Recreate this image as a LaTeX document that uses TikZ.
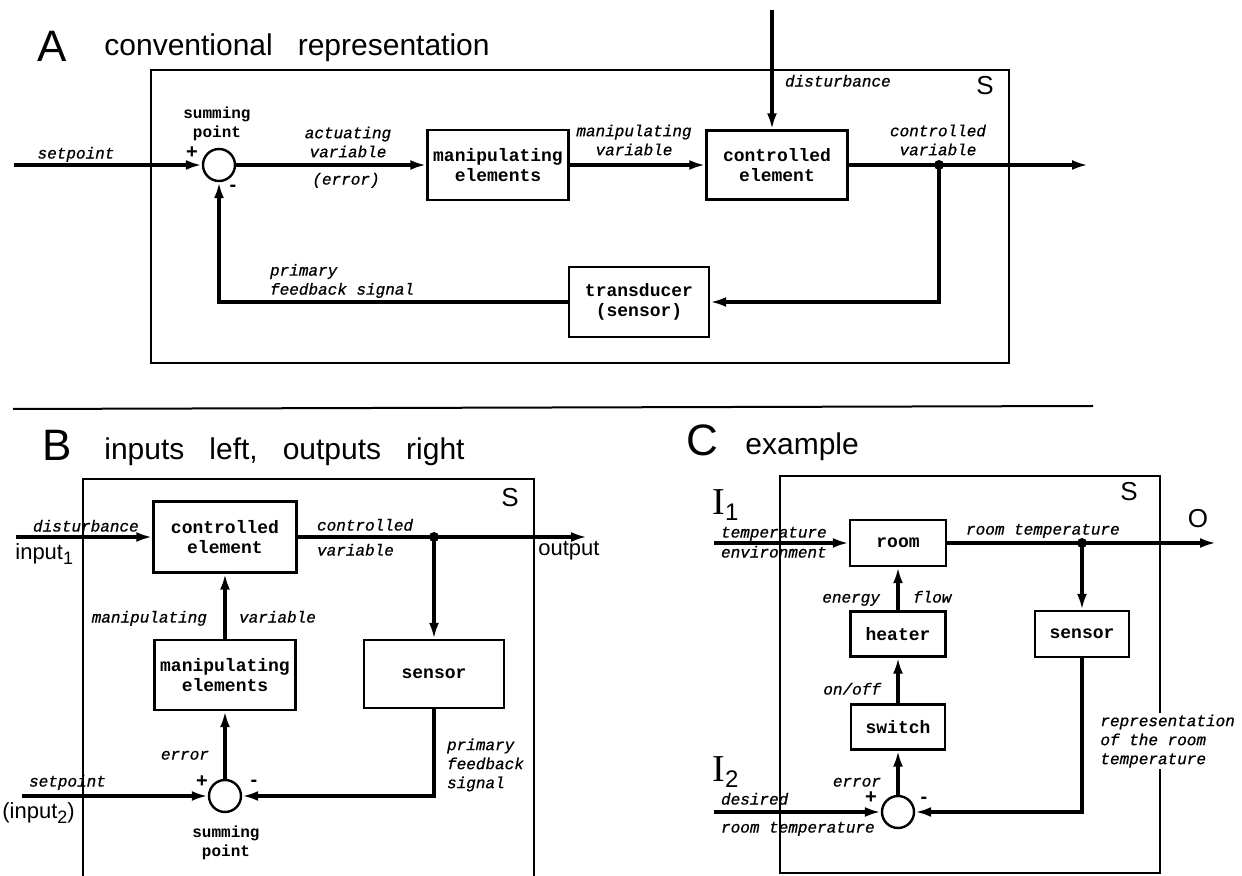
\documentclass[tikz,border=0pt]{standalone}
\usepackage{fontspec}
\usepackage{tikz}
\usetikzlibrary{arrows.meta}
\newfontfamily\monofont{Liberation Mono}
\newfontfamily\monolbl[FakeBold=0.8]{Liberation Mono}
\newfontfamily\sansfont{Liberation Sans}
\newfontfamily\titlefont[WordSpace=3]{Liberation Sans}
\newfontfamily\serifont{Liberation Serif}
\newcommand{\boxfont}{\monofont\bfseries\fontsize{9}{10}\selectfont}
\newcommand{\lblfont}{\monolbl\itshape\fontsize{8}{9.5}\selectfont}
\newcommand{\notefont}{\monofont\bfseries\fontsize{8}{9.5}\selectfont}
\begin{document}
\begin{tikzpicture}[x=0.5pt,y=-0.5pt,
    block/.style={
% The shape:
      rectangle,
% The border:
      draw, line width=1.2pt,
% The text:
      font=\boxfont, align=center, inner sep=1pt
    },
    sumpt/.style={
% The shape:
      circle, minimum size=16pt, inner sep=0pt,
% The border:
      draw, line width=1.2pt
    },
    dot/.style={circle, fill, inner sep=0pt, minimum size=5pt},
    sig/.style={line width=1.6pt, -{Latex[length=8pt,width=5pt]}},
    frame/.style={line width=1pt},
    lbl/.style={font=\lblfont},
    onelbl/.style={lbl, text height=1.5ex, text depth=0.45ex},
    note/.style={font=\notefont, align=center},
    sign/.style={font=\sansfont\bfseries\fontsize{10}{10}\selectfont, inner sep=0pt},
    bigletter/.style={font=\sansfont\fontsize{22}{22}\selectfont, inner sep=0pt},
    title/.style={font=\titlefont\fontsize{15}{15}\selectfont, anchor=west, inner sep=0pt},
    sysname/.style={font=\sansfont\fontsize{13}{13}\selectfont, inner sep=0pt},
    port/.style={font=\sansfont\fontsize{11}{11}\selectfont, anchor=west, inner sep=0pt},
    inport/.style={font=\serifont\fontsize{19}{19}\selectfont, anchor=west, inner sep=0pt}
  ]
  \useasboundingbox (0,0) rectangle (1242,876);

% ---------- A: conventional representation ----------
  \node[bigletter] (letA) at (52,46) {A};
  \node[title] (titA) at (104,48) {conventional representation};
  \draw[frame] (151,70) rectangle (1009,363);
  \node[sysname] (sysA) at (985,86) {S};

  \node[sumpt] (sumA) at (219,165) {};
  \node[block, minimum width=70.5pt, minimum height=35pt] (manipA) at (498,165) {manipulating\\elements};
  \node[block, minimum width=70.5pt, minimum height=34.5pt] (ctrlA) at (777,165) {controlled\\element};
  \node[block, minimum width=70pt, minimum height=35pt] (transA) at (639,302) {transducer\\(sensor)};
  \node[dot] (dotA) at (939,165) {};
  \coordinate (setA) at (14,165);
  \coordinate (distA) at (772,10);
  \coordinate (outA) at (1088,165);

  \draw[sig] (setA) -- (sumA);
  \draw[sig] (sumA) -- (manipA);
  \draw[sig] (manipA) -- (ctrlA);
  \draw[sig] (distA) -- (distA |- ctrlA.north);
  \draw[sig] (ctrlA) -- (outA);
  \draw[sig] (dotA.center) |- (transA);
  \draw[sig] (transA) -| (sumA);

  \node[onelbl] (spA) at (76,154) {setpoint};
  \node[sign] (plusA) at (192,153) {+};
  \node[sign] (minusA) at (233,188) {-};
  \node[note] (spointA) at (217,124) {summing\\point};
  \node[lbl, align=center] (actA) at (348,142) {actuating\\variable};
  \node[onelbl] (errA) at (346,180) {(error)};
  \node[lbl, align=center] (mvA) at (634,140) {manipulating\\variable};
  \node[onelbl, anchor=west] (disA) at (778,82) {disturbance};
  \node[lbl, align=center] (cvA) at (938,140) {controlled\\variable};
  \node[lbl, align=left, anchor=west] (fbA) at (263,281) {primary\\feedback signal};

% separator
  \draw[frame] (13,409) -- (1093,406);

% ---------- B: inputs left, outputs right ----------
  \node[bigletter] (letB) at (57,445) {B};
  \node[title] (titB) at (104,452) {inputs left, outputs right};
  \draw[frame] (83,876) -- (83,479) -- (534,479) -- (534,876);
  \node[sysname] (sysB) at (510,498) {S};

  \node[block, minimum width=71.5pt, minimum height=35.5pt] (ctrlB) at (225,537) {controlled\\element};
  \node[block, minimum width=70.5pt, minimum height=35pt] (manipB) at (225,675) {manipulating\\elements};
  \node[block, minimum width=70pt, minimum height=34pt] (sensB) at (434,674) {sensor};
  \node[sumpt] (sumB) at (225,796) {};
  \node[dot] (dotB) at (434,537) {};
  \coordinate (distB) at (16,537);
  \coordinate (outB) at (587,537);
  \coordinate (setB) at (22,796);

  \draw[sig] (distB) -- (ctrlB);
  \draw[sig] (ctrlB) -- (outB);
  \draw[sig] (dotB.center) -- (sensB);
  \draw[sig] (manipB) -- (ctrlB);
  \draw[sig] (sumB) -- (manipB);
  \draw[sig] (setB) -- (sumB);
  \draw[sig] (sensB) |- (sumB);

  \node[onelbl, anchor=west] (disB) at (26,527) {disturbance};
  \node[port] (in1B) at (15,554) {input\raisebox{-0.4ex}{\fontsize{9}{9}\selectfont 1}};
  \node[onelbl, anchor=west] (cvB) at (310,526) {controlled};
  \node[onelbl, anchor=west] (cvbB) at (310,551) {variable};
  \node[port] (outlB) at (538,551) {output};
  \node[onelbl, anchor=east] (mvB) at (214,618) {manipulating};
  \node[onelbl, anchor=west] (mvbB) at (232,618) {variable};
  \node[onelbl, anchor=east] (errB) at (216,755) {error};
  \node[sign] (plusB) at (202,782) {+};
  \node[sign] (minusB) at (254,783) {-};
  \node[onelbl, anchor=west] (spB) at (22,782) {setpoint};
  \node[port] (in2B) at (2,813) {(input\raisebox{-0.4ex}{\fontsize{9}{9}\selectfont 2})};
  \node[note] (spointB) at (226,843) {summing\\point};
  \node[lbl, align=left, anchor=west] (fbB) at (440,765) {primary\\feedback\\signal};

% ---------- C: example ----------
  \node[bigletter] (letC) at (702,440) {C};
  \node[title] (titC) at (745,447) {example};
  \draw[frame] (780,476) rectangle (1160,873);
  \node[sysname] (sysC) at (1129,492) {S};

  \node[block, minimum width=48pt, minimum height=23pt] (roomC) at (898,543) {room};
  \node[block, minimum width=47.5pt, minimum height=22.5pt] (heaterC) at (898,634) {heater};
  \node[block, minimum width=47pt, minimum height=22.5pt] (switchC) at (898,727) {switch};
  \node[block, minimum width=47pt, minimum height=23pt] (sensC) at (1082,634) {sensor};
  \node[sumpt] (sumC) at (898,812) {};
  \node[dot] (dotC) at (1082,543) {};
  \coordinate (envC) at (714,543);
  \coordinate (outC) at (1216,543);
  \coordinate (desC) at (714,812);

  \draw[sig] (envC) -- (roomC);
  \draw[sig] (roomC) -- (outC);
  \draw[sig] (dotC.center) -- (sensC);
  \draw[sig] (heaterC) -- (roomC);
  \draw[sig] (switchC) -- (heaterC);
  \draw[sig] (sumC) -- (switchC);
  \draw[sig] (desC) -- (sumC);
  \draw[sig] (sensC) |- (sumC);

  \node[inport] (in1C) at (712,505) {I\raisebox{-0.35ex}{\sansfont\fontsize{12}{12}\selectfont 1}};
  \node[onelbl, anchor=west] (tempC) at (714,533) {temperature};
  \node[onelbl, anchor=west] (envlC) at (714,553) {environment};
  \node[onelbl, anchor=west] (rtC) at (959,530) {room temperature};
  \node[sysname] (outlC) at (1198,519) {O};
  \node[onelbl, anchor=east] (enC) at (887,598) {energy};
  \node[onelbl, anchor=west] (flC) at (906,598) {flow};
  \node[onelbl, anchor=east] (onC) at (888,690) {on/off};
  \node[onelbl, anchor=east] (errC) at (888,782) {error};
  \node[sign] (plusC) at (871,798) {+};
  \node[sign] (minusC) at (924,800) {-};
  \node[inport] (in2C) at (712,772) {I\raisebox{-0.35ex}{\sansfont\fontsize{12}{12}\selectfont 2}};
  \node[onelbl, anchor=west] (desiC) at (714,800) {desired};
  \node[onelbl, anchor=west] (rtbC) at (714,828) {room temperature};
  \node[lbl, align=left, anchor=west, fill=white, inner sep=1pt] (reprC) at (1098,741) {representation\\of the room\\temperature};
\end{tikzpicture}
\end{document}
